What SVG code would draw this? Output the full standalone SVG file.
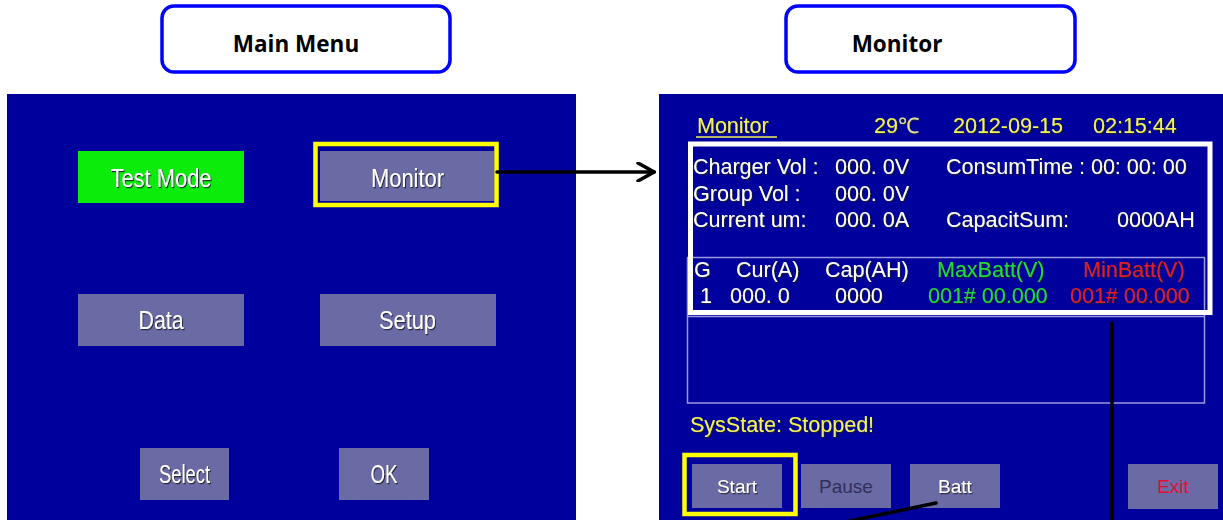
<svg xmlns="http://www.w3.org/2000/svg" width="1223" height="520" viewBox="0 0 1223 520">
  <defs>
    <style>
      .title-box { fill: #ffffff; stroke: #0000ff; stroke-width: 3.5; }
      .title { font-family: "Open Sans", "Liberation Sans", sans-serif; font-weight: bold; font-size: 22.5px; fill: #000000; text-anchor: middle; }
      .screen { fill: #00009c; }
      .btn { fill: #6a6aa4; }
      .btn-green { fill: #0bec0b; }
      .hl { fill: none; stroke: #ffff00; stroke-width: 4.5; }
      .big { font-family: "Liberation Sans", Arial, sans-serif; font-size: 25px; fill: #ffffff; text-anchor: middle; filter: url(#shadow); }
      .t { font-family: "Liberation Sans", Arial, sans-serif; font-size: 21.5px; fill: #ffffff; filter: url(#shadow); }
      .y { fill: #f2f25a; }
      .g { fill: #22d83a; }
      .r { fill: #e01c2c; }
      .bt { font-family: "Liberation Sans", Arial, sans-serif; font-size: 19px; text-anchor: middle; }
      .frame { fill: none; stroke: #ffffff; stroke-width: 5; }
      .thin { fill: none; stroke: #9a9ae0; stroke-width: 1.5; }
      .conn { fill: none; stroke: #000000; stroke-width: 3.5; stroke-linecap: round; }
    </style>
    <filter id="shadow" x="-10%" y="-20%" width="120%" height="140%">
      <feDropShadow dx="1" dy="1.2" stdDeviation="0.6" flood-color="#1a1a30" flood-opacity="0.9"/>
    </filter>
    <marker id="chev" viewBox="0 0 20 20" refX="18" refY="10" markerWidth="20" markerHeight="20" markerUnits="userSpaceOnUse" orient="auto">
      <path d="M2,1 L18,10 L2,19" fill="none" stroke="#000000" stroke-width="3.5" stroke-linecap="round" stroke-linejoin="miter"/>
    </marker>
  </defs>

  <rect x="0" y="0" width="1223" height="520" fill="#ffffff"/>

  <g id="main-menu-label">
    <rect class="title-box" x="162" y="6" width="288" height="66" rx="12"/>
    <text class="title" x="296" y="52">Main Menu</text>
  </g>

  <g id="monitor-label">
    <rect class="title-box" x="786" y="6" width="289" height="66" rx="12"/>
    <text class="title" x="897" y="52">Monitor</text>
  </g>

  <g id="main-menu-screen">
    <rect class="screen" x="7" y="94" width="569" height="426"/>
    <rect class="btn-green" x="78" y="151" width="166" height="52"/>
    <text class="big" x="161" y="187" textLength="101" lengthAdjust="spacingAndGlyphs">Test Mode</text>
    <rect class="btn" x="320" y="151" width="174" height="50"/>
    <rect class="hl" x="315.5" y="144" width="181" height="61"/>
    <text class="big" x="407.5" y="187" textLength="73" lengthAdjust="spacingAndGlyphs">Monitor</text>
    <rect class="btn" x="78" y="294" width="166" height="52"/>
    <text class="big" x="161" y="329" textLength="45" lengthAdjust="spacingAndGlyphs">Data</text>
    <rect class="btn" x="320" y="294" width="176" height="52"/>
    <text class="big" x="407.5" y="329" textLength="57" lengthAdjust="spacingAndGlyphs">Setup</text>
    <rect class="btn" x="140" y="448" width="89" height="52"/>
    <text class="big" x="184.5" y="483" textLength="51" lengthAdjust="spacingAndGlyphs">Select</text>
    <rect class="btn" x="339" y="448" width="90" height="52"/>
    <text class="big" x="384" y="483" textLength="27" lengthAdjust="spacingAndGlyphs">OK</text>
  </g>

  <g id="monitor-screen">
    <rect class="screen" x="659" y="94" width="564" height="426"/>
    <text class="t y" x="697" y="133" font-size="21.5">Monitor</text>
    <line x1="696" y1="137" x2="777" y2="137" stroke="#f2f25a" stroke-width="1.5"/>
    <text class="t y" x="874" y="133" font-size="22">29<tspan fill="#e0e0a0">℃</tspan></text>
    <text class="t y" x="953" y="133" font-size="22.5">2012-09-15</text>
    <text class="t y" x="1093" y="133" font-size="22.5">02:15:44</text>

    <rect class="thin" x="687.5" y="257.5" width="517" height="145.5"/>
    <line class="thin" x1="687.5" y1="316.5" x2="1204.5" y2="316.5"/>
    <rect class="frame" x="690.5" y="144" width="519.5" height="168.5"/>

    <text class="t" x="693" y="174">Charger Vol :</text>
    <text class="t" x="835" y="174">000. 0V</text>
    <text class="t" x="946" y="174">ConsumTime : 00: 00: 00</text>
    <text class="t" x="693" y="200.5">Group Vol :</text>
    <text class="t" x="835" y="200.5">000. 0V</text>
    <text class="t" x="693" y="227">Current um:</text>
    <text class="t" x="835" y="227">000. 0A</text>
    <text class="t" x="946" y="227">CapacitSum:</text>
    <text class="t" x="1117" y="227">0000AH</text>

    <text class="t" x="694" y="277">G</text>
    <text class="t" x="736" y="277">Cur(A)</text>
    <text class="t" x="825" y="277">Cap(AH)</text>
    <text class="t g" x="937" y="277">MaxBatt(V)</text>
    <text class="t r" x="1083" y="277">MinBatt(V)</text>
    <text class="t" x="700" y="303">1</text>
    <text class="t" x="730" y="303">000. 0</text>
    <text class="t" x="835" y="303">0000</text>
    <text class="t g" x="928" y="303">001# 00.000</text>
    <text class="t r" x="1070" y="303">001# 00.000</text>

    <text class="t y" x="690" y="432" font-size="22">SysState: Stopped!</text>

    <rect class="btn" x="692" y="464" width="90" height="44"/>
    <rect class="hl" x="684.5" y="455" width="111" height="59"/>
    <text class="bt" x="737" y="493" fill="#ffffff" filter="url(#shadow)">Start</text>
    <rect class="btn" x="801" y="464" width="90" height="44"/>
    <text class="bt" x="846" y="493" fill="#30305a">Pause</text>
    <rect class="btn" x="910" y="464" width="90" height="44"/>
    <text class="bt" x="955" y="493" fill="#ffffff" filter="url(#shadow)">Batt</text>
    <rect class="btn" x="1128" y="464" width="90" height="45"/>
    <text class="bt" x="1173" y="493" fill="#dd1133">Exit</text>
  </g>

  <g id="connectors">
    <line class="conn" x1="497" y1="172" x2="654" y2="172" marker-end="url(#chev)"/>
    <line class="conn" x1="1112" y1="323" x2="1112" y2="522" stroke-linecap="butt" stroke-width="4"/>
    <line class="conn" x1="936" y1="503" x2="845" y2="522" stroke-linecap="butt"/>
  </g>
</svg>
